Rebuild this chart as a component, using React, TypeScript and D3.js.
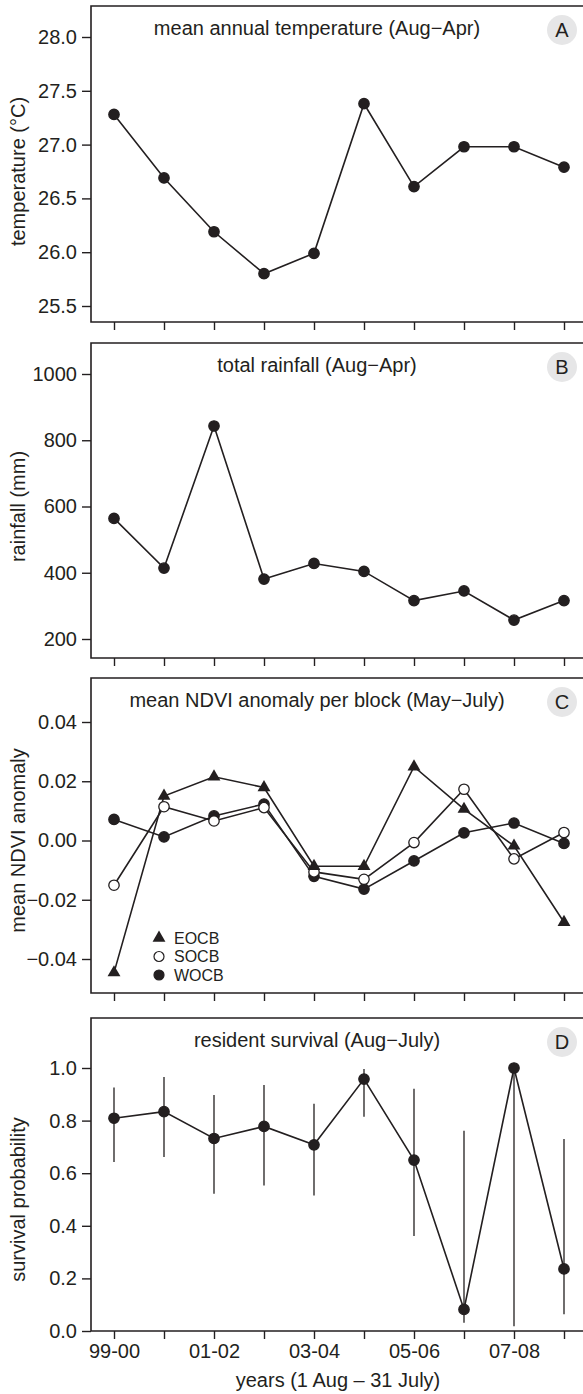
import React, { useEffect, useRef } from "react"
import * as d3 from "d3"

// seasons (1 Aug - 31 July)
const years = ["99-00", "00-01", "01-02", "02-03", "03-04", "04-05", "05-06", "06-07", "07-08", "08-09"]
const yearLabels = ["99-00", "01-02", "03-04", "05-06", "07-08"]

// A: mean annual temperature (Aug-Apr), deg C
const temperature = [27.28, 26.69, 26.19, 25.8, 25.99, 27.38, 26.61, 26.98, 26.98, 26.79]
const tempTicks = [25.5, 26.0, 26.5, 27.0, 27.5, 28.0]

// B: total rainfall (Aug-Apr), mm
const rainfall = [564, 414, 843, 381, 428, 404, 316, 345, 257, 316]
const rainTicks = [200, 400, 600, 800, 1000]

// C: mean NDVI anomaly per block (May-July)
const ndviEOCB = [-0.0446, 0.015, 0.0215, 0.0179, -0.0087, -0.0087, 0.0249, 0.0106, -0.0018, -0.0276]
const ndviSOCB = [-0.0151, 0.0114, 0.0066, 0.0111, -0.0106, -0.0131, -0.0007, 0.0173, -0.0062, 0.0027]
const ndviWOCB = [0.0071, 0.0012, 0.0083, 0.0123, -0.0121, -0.0164, -0.0069, 0.0026, 0.0059, -0.001]
const ndviTicks = [-0.04, -0.02, 0.0, 0.02, 0.04]

// D: resident survival (Aug-July) with confidence limits
const survival = [0.809, 0.834, 0.732, 0.778, 0.708, 0.958, 0.65, 0.082, 1.0, 0.236]
const survivalLow = [0.643, 0.662, 0.522, 0.553, 0.515, 0.815, 0.361, 0.031, 0.018, 0.064]
const survivalHigh = [0.926, 0.966, 0.897, 0.935, 0.864, 0.996, 0.921, 0.761, 1.0, 0.73]
const survTicks = [0.0, 0.2, 0.4, 0.6, 0.8, 1.0]

const INK = "#231f20"
const FONT = "'Liberation Sans', Arial, sans-serif"
const FS = "20px"

export default function App() {
  const ref = useRef<SVGSVGElement>(null)

  useEffect(() => {
    const svg = d3.select(ref.current)
    svg.selectAll("*").remove()

    const x = d3.scalePoint<string>().domain(years).range([114, 564])
    const left = 91

    const panels = [
      { key: "A", title: "mean annual temperature (Aug\u2212Apr)", ylab: "temperature (\u00b0C)",
        top: 6, bottom: 322, ticks: tempTicks, fmt: d3.format(".1f"), y0: 306, y1: 37 },
      { key: "B", title: "total rainfall (Aug\u2212Apr)", ylab: "rainfall (mm)",
        top: 343, bottom: 658, ticks: rainTicks, fmt: d3.format("d"), y0: 639, y1: 374 },
      { key: "C", title: "mean NDVI anomaly per block (May\u2212July)", ylab: "mean NDVI anomaly",
        top: 678, bottom: 993, ticks: ndviTicks, fmt: d3.format(".2f"), y0: 959, y1: 722 },
      { key: "D", title: "resident survival (Aug\u2212July)", ylab: "survival probability",
        top: 1018, bottom: 1331, ticks: survTicks, fmt: d3.format(".1f"), y0: 1331, y1: 1068 },
    ]

    const scales: Record<string, d3.ScaleLinear<number, number>> = {}

    panels.forEach(p => {
      const lo = p.ticks[0], hi = p.ticks[p.ticks.length - 1]
      const y = d3.scaleLinear().domain([lo, hi]).range([p.y0, p.y1])
      scales[p.key] = y
      const g = svg.append("g")

      // open box (right side runs off the page)
      g.append("path")
        .attr("d", `M600,${p.top}H${left}V${p.bottom}H600`)
        .attr("fill", "none").attr("stroke", INK).attr("stroke-width", 1.6)

      // y axis
      const ya = g.append("g").attr("transform", `translate(${left},0)`)
        .call(d3.axisLeft(y).tickValues(p.ticks).tickFormat(p.fmt as any).tickSize(9).tickPadding(5))
      ya.select(".domain").remove()

      // x axis ticks
      const xa = g.append("g").attr("transform", `translate(0,${p.bottom})`)
        .call(d3.axisBottom(x).tickSize(8).tickPadding(5)
          .tickFormat(d => (p.key === "D" && yearLabels.includes(d) ? d : "")))
      xa.select(".domain").remove()

      g.selectAll(".tick line").attr("stroke", INK).attr("stroke-width", 1.4)
      g.selectAll(".tick text").attr("fill", INK).style("font-size", FS).style("font-family", FONT)

      g.append("text")
        .attr("x", 317).attr("y", p.top + 29)
        .attr("text-anchor", "middle").attr("fill", INK)
        .style("font-size", FS).style("font-family", FONT)
        .text(p.title)

      g.append("circle").attr("cx", 562).attr("cy", p.top + 24).attr("r", 15).attr("fill", "#e6e6e7")
      g.append("text")
        .attr("x", 562).attr("y", p.top + 24).attr("dy", "0.36em")
        .attr("text-anchor", "middle").attr("fill", INK)
        .style("font-size", FS).style("font-family", FONT)
        .text(p.key)

      g.append("text")
        .attr("transform", `translate(18,${(p.y0 + p.y1) / 2}) rotate(-90)`)
        .attr("text-anchor", "middle").attr("dy", "0.36em").attr("fill", INK)
        .style("font-size", FS).style("font-family", FONT)
        .text(p.ylab)
    })

    const line = (y: d3.ScaleLinear<number, number>) =>
      d3.line<number>().x((_, i) => x(years[i])!).y(d => y(d))

    const drawLine = (vals: number[], y: d3.ScaleLinear<number, number>) =>
      svg.append("path").datum(vals).attr("d", line(y))
        .attr("fill", "none").attr("stroke", INK).attr("stroke-width", 1.6)

    const drawDots = (vals: number[], y: d3.ScaleLinear<number, number>, fill: string) =>
      svg.append("g").selectAll("circle").data(vals).join("circle")
        .attr("cx", (_, i) => x(years[i])!).attr("cy", d => y(d)).attr("r", 5.2)
        .attr("fill", fill).attr("stroke", INK).attr("stroke-width", 1.3)

    const tri = d3.symbol().type(d3.symbolTriangle).size(72)
    const drawTris = (vals: number[], y: d3.ScaleLinear<number, number>) =>
      svg.append("g").selectAll("path").data(vals).join("path")
        .attr("transform", (d, i) => `translate(${x(years[i])},${y(d)})`)
        .attr("d", tri()).attr("fill", INK)

    // A
    drawLine(temperature, scales.A)
    drawDots(temperature, scales.A, INK)

    // B
    drawLine(rainfall, scales.B)
    drawDots(rainfall, scales.B, INK)

    // C
    drawLine(ndviWOCB, scales.C)
    drawLine(ndviSOCB, scales.C)
    drawLine(ndviEOCB, scales.C)
    drawDots(ndviWOCB, scales.C, INK)
    drawDots(ndviSOCB, scales.C, "#fff")
    drawTris(ndviEOCB, scales.C)

    const legend = [
      { name: "EOCB", kind: "tri" },
      { name: "SOCB", kind: "open" },
      { name: "WOCB", kind: "dot" },
    ]
    const lg = svg.append("g").attr("transform", "translate(159,938)")
    legend.forEach((l, i) => {
      const row = lg.append("g").attr("transform", `translate(0,${i * 18.5})`)
      if (l.kind === "tri") row.append("path").attr("d", tri()).attr("fill", INK)
      else row.append("circle").attr("r", 5).attr("fill", l.kind === "dot" ? INK : "#fff")
        .attr("stroke", INK).attr("stroke-width", 1.2)
      row.append("text").attr("x", 15).attr("dy", "0.36em").attr("fill", INK)
        .style("font-size", "16px").style("font-family", FONT).text(l.name)
    })

    // D
    svg.append("g").selectAll("line").data(survival).join("line")
      .attr("x1", (_, i) => x(years[i])!).attr("x2", (_, i) => x(years[i])!)
      .attr("y1", (_, i) => scales.D(survivalLow[i])).attr("y2", (_, i) => scales.D(survivalHigh[i]))
      .attr("stroke", INK).attr("stroke-width", 1.3)
    drawLine(survival, scales.D)
    drawDots(survival, scales.D, INK)

    svg.append("text")
      .attr("x", 338).attr("y", 1387)
      .attr("text-anchor", "middle").attr("fill", INK)
      .style("font-size", FS).style("font-family", FONT)
      .text("years (1 Aug \u2013 31 July)")
  }, [])

  return (
    <svg ref={ref} width={583} height={1394}
      style={{ position: "absolute", left: 0, top: 0, background: "#fff" }} />
  )
}
